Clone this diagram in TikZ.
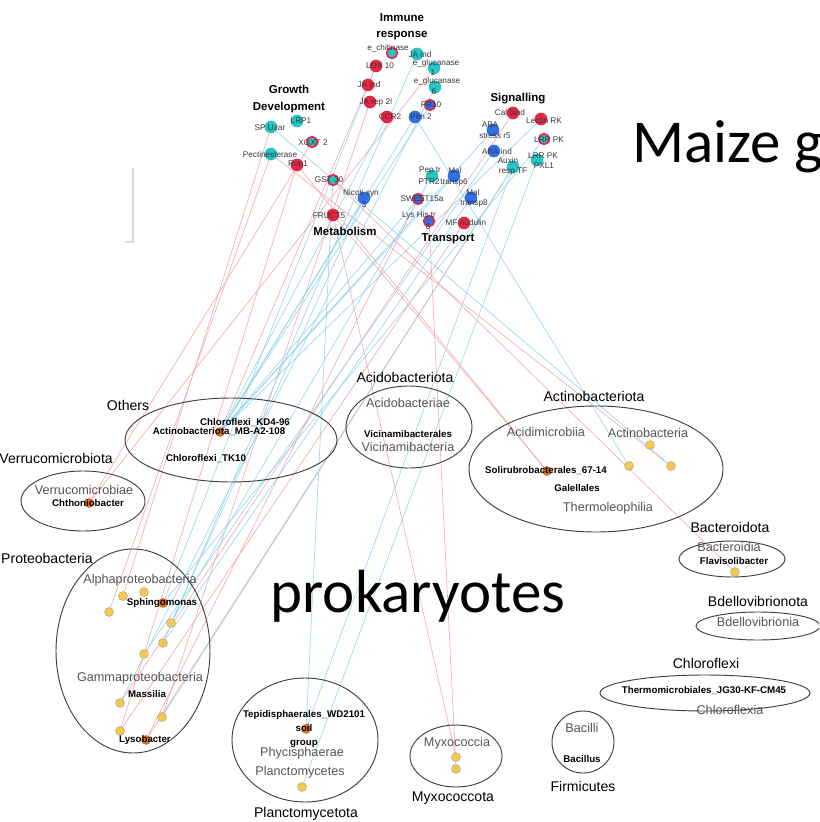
\documentclass[tikz,border=0pt]{standalone}
\usepackage{fontspec}
\setmainfont{Liberation Sans}
\newfontfamily\slidefont{Carlito}
\usetikzlibrary{backgrounds}

\definecolor{genered}{RGB}{232,38,72}
\definecolor{geneteal}{RGB}{38,196,196}
\definecolor{geneblue}{RGB}{48,112,232}
\definecolor{taxyellow}{RGB}{247,200,80}
\definecolor{taxorange}{RGB}{226,112,24}
\definecolor{posline}{RGB}{246,165,165}
\definecolor{negline}{RGB}{145,212,240}
\definecolor{classgray}{RGB}{85,85,85}

\begin{document}
\begin{tikzpicture}[x=0.03cm,y=-0.03cm,
	gene/.style={circle,inner sep=0pt,minimum size=0.38cm},
	rednode/.style={gene,fill=genered},
	tealnode/.style={gene,fill=geneteal},
	bluenode/.style={gene,fill=geneblue},
	ringteal/.style={gene,fill=geneteal,draw=genered,line width=1.4pt,minimum size=0.32cm},
	ringblue/.style={gene,fill=geneblue,draw=genered,line width=1.4pt,minimum size=0.32cm},
	glbl/.style={font=\fontsize{7}{7}\selectfont,text=black!78,inner sep=0pt},
	title/.style={font=\bfseries\fontsize{9.8}{14}\selectfont,align=center,inner sep=0pt},
	phylum/.style={font=\fontsize{12}{13}\selectfont,inner sep=0pt},
	cls/.style={font=\fontsize{10.8}{11}\selectfont,text=classgray,inner sep=0pt},
	genus/.style={font=\bfseries\fontsize{8.3}{12}\selectfont,align=center,inner sep=0pt},
	taxdot/.style={circle,inner sep=0pt,minimum size=0.27cm,fill=taxyellow,draw=black!40,line width=0.3pt},
	hubdot/.style={taxdot,fill=taxorange,draw=taxorange!80!black},
	group/.style={draw=black!75,line width=0.8pt},
	posedge/.style={draw=posline,line width=0.5pt},
	negedge/.style={draw=negline,line width=0.5pt},
	bigtext/.style={font=\slidefont\fontsize{52}{52}\selectfont,inner sep=0pt}]
	\useasboundingbox (0,0) rectangle (819,822);
	\clip (0,0) rectangle (819,822);

	\draw[black!15,line width=1pt] (125,242) -- (133,242) -- (133,168);

	% gene modules
	\node[title] (immune) at (402,27) {Immune\\response};
	\node[title] (growth) at (289,99) {Growth\\Development};
	\node[title] (signal) at (518,99) {Signalling};
	\node[title] (metab) at (345,231) {Metabolism};
	\node[title] (transp) at (448,239) {Transport};

	\node[ringteal] (echit) at (392,53) {};
	\node[tealnode] (jaind1) at (417,54) {};
	\node[tealnode] (eglu1) at (434,68) {};
	\node[rednode] (lox) at (376,66) {};
	\node[tealnode] (eglu6) at (435,87) {};
	\node[rednode] (jaind2) at (368,85) {};
	\node[rednode] (jarep) at (370,102) {};
	\node[ringblue] (pr10) at (430,105) {};
	\node[rednode] (ccr2) at (387,117) {};
	\node[bluenode] (pen2) at (415,117) {};

	\node[tealnode] (spl) at (271,127) {};
	\node[tealnode] (lrp1) at (297,121) {};
	\node[ringteal] (xgxt) at (312,142) {};
	\node[tealnode] (pect) at (271,154) {};
	\node[rednode] (rop1) at (297,165) {};

	\node[ringteal] (gst) at (333,180) {};
	\node[bluenode] (nicoti) at (364,198) {};
	\node[rednode] (fruct) at (333,215) {};

	\node[rednode] (calbind) at (513,113) {};
	\node[rednode] (lectin) at (541,119) {};
	\node[bluenode] (abastress) at (493,130) {};
	\node[ringteal] (lrrpk1) at (544,139) {};
	\node[bluenode] (abaind) at (494,151) {};
	\node[tealnode] (lrrpk2) at (537,160) {};
	\node[tealnode] (auxin) at (513,167) {};

	\node[tealnode] (pept) at (432,176) {};
	\node[bluenode] (mal6) at (454,176) {};
	\node[bluenode] (mal8) at (471,198) {};
	\node[ringblue] (sweet) at (418,199) {};
	\node[ringblue] (lys) at (429,221) {};
	\node[rednode] (mfnod) at (464,223) {};

	\node[glbl] (echit-t) at (388,48) {e\_chitinase};
	\node[glbl] (jaind1-t) at (420,55) {JA ind};
	\node[glbl] (eglu1-t) at (436,63) {e\_glucanase};
	\node[glbl] (eglu1-n) at (433,73) {1};
	\node[glbl] (lox-t) at (380,66) {LOX 10};
	\node[glbl] (eglu6-t) at (437,81) {e\_glucanase};
	\node[glbl] (eglu6-n) at (434,92) {6};
	\node[glbl] (jaind2-t) at (369,85) {JA ind};
	\node[glbl] (jarep-t) at (376,102) {JA rep 2!};
	\node[glbl] (pr10-t) at (431,105) {PR10};
	\node[glbl] (ccr2-t) at (390,117) {CCR2};
	\node[glbl] (pen2-t) at (421,117) {Pen 2};

	\node[glbl] (spl-t) at (270,128) {SP Uzar};
	\node[glbl] (lrp1-t) at (301,121) {LRP1};
	\node[glbl] (xgxt-t) at (313,143) {XGXT 2};
	\node[glbl] (pect-t) at (270,155) {Pectinesterase};
	\node[glbl] (rop1-t) at (298,165) {Rop1};
	\node[glbl] (gst-t) at (329,180) {GST 30};
	\node[glbl] (nicoti-t) at (361,193) {Nicoti syn};
	\node[glbl] (nicoti-n) at (364,205) {3};
	\node[glbl] (fruct-t) at (329,216) {FRUCT5};

	\node[glbl] (calbind-t) at (510,113) {Cal bind};
	\node[glbl] (lectin-t) at (544,121) {Lectin RK};
	\node[glbl] (abastress-t) at (490,125) {ABA};
	\node[glbl] (abastress-u) at (495,136) {stress r5};
	\node[glbl] (lrrpk1-t) at (549,140) {LRR PK};
	\node[glbl] (abaind-t) at (497,152) {ABA ind};
	\node[glbl] (lrrpk2-t) at (543,156) {LRR PK};
	\node[glbl] (lrrpk2-u) at (544,166) {PXL1};
	\node[glbl] (auxin-t) at (508,161) {Auxin};
	\node[glbl] (auxin-u) at (513,172) {resp TF};

	\node[glbl] (pept-t) at (430,171) {Pep tr};
	\node[glbl] (pept-u) at (429,182) {PTR2};
	\node[glbl] (mal6-t) at (455,171) {Mal};
	\node[glbl] (mal6-u) at (454,182) {transp6};
	\node[glbl] (mal8-t) at (473,193) {Mal};
	\node[glbl] (mal8-u) at (474,203) {transp8};
	\node[glbl] (sweet-t) at (422,199) {SWEET15a};
	\node[glbl] (lys-t) at (419,215) {Lys His tr};
	\node[glbl] (lys-n) at (428,227) {6};
	\node[glbl] (mfnod-t) at (466,223) {MF nodulin};

	% prokaryote groups
	\draw[group] (231,440) ellipse [x radius=106,y radius=42];
	\draw[group] (409,427) ellipse [x radius=63,y radius=41];
	\draw[group] (596,469) ellipse [x radius=127,y radius=63];
	\draw[group] (83,501) ellipse [x radius=62,y radius=30];
	\draw[group] (133,651) ellipse [x radius=77,y radius=102];
	\draw[group] (305,740) ellipse [x radius=73,y radius=62];
	\draw[group] (456,756) ellipse [x radius=46,y radius=31];
	\draw[group] (583,742) ellipse [x radius=31,y radius=31];
	\draw[group] (732,559) ellipse [x radius=53,y radius=18];
	\draw[group] (758,626) ellipse [x radius=62,y radius=14];
	\draw[group] (705,693) ellipse [x radius=105,y radius=18];

	\node[phylum] (others) at (128,405) {Others};
	\node[phylum] (acidobact) at (405,377) {Acidobacteriota};
	\node[phylum] (actinobact) at (594,396) {Actinobacteriota};
	\node[phylum,anchor=east] (verrucobact) at (113,458) {Verrucomicrobiota};
	\node[phylum,anchor=west] (proteobact) at (1,558) {Proteobacteria};
	\node[phylum] (bacteroid) at (730,527) {Bacteroidota};
	\node[phylum] (bdellobact) at (758,601) {Bdellovibrionota};
	\node[phylum] (chloroflexi) at (706,663) {Chloroflexi};
	\node[phylum] (planctobact) at (306,814) {Planctomycetota};
	\node[phylum] (myxobact) at (453,798) {Myxococcota};
	\node[phylum] (firmicutes) at (583,786) {Firmicutes};

	\node[hubdot] (kd4) at (220,432) {};
	\node[hubdot] (chth) at (89,503) {};
	\node[hubdot] (soli) at (547,471) {};
	\node[taxdot] (act1) at (650,445) {};
	\node[taxdot] (act2) at (629,466) {};
	\node[taxdot] (act3) at (671,466) {};
	\node[taxdot] (p1) at (123,596) {};
	\node[taxdot] (p2) at (144,592) {};
	\node[hubdot] (sphingo) at (163,603) {};
	\node[taxdot] (p3) at (109,612) {};
	\node[taxdot] (p4) at (171,623) {};
	\node[taxdot] (p5) at (163,643) {};
	\node[taxdot] (p6) at (144,654) {};
	\node[taxdot] (massilia) at (120,703) {};
	\node[taxdot] (p8) at (162,717) {};
	\node[taxdot] (p9) at (120,731) {};
	\node[hubdot] (lyso) at (146,740) {};
	\node[hubdot] (tepi) at (306,729) {};
	\node[taxdot] (plancto) at (302,787) {};
	\node[taxdot] (myx1) at (456,757) {};
	\node[taxdot] (myx2) at (456,769) {};
	\node[taxdot] (flavi) at (735,572) {};

	\node[genus] (kd4-t) at (245,423) {Chloroflexi\_KD4-96};
	\node[genus] (mba2-t) at (219,432) {Actinobacteriota\_MB-A2-108};
	\node[genus] (tk10-t) at (206,459) {Chloroflexi\_TK10};
	\node[cls] (acidobacteriae) at (408,403) {Acidobacteriae};
	\node[genus] (vicin-t) at (408,434) {Vicinamibacterales};
	\node[cls] (vicinamibacteria) at (408,447) {Vicinamibacteria};
	\node[cls] (acidimicrobiia) at (546,432) {Acidimicrobiia};
	\node[cls] (actinobacteria) at (648,433) {Actinobacteria};
	\node[genus] (soli-t) at (546,471) {Solirubrobacterales\_67-14};
	\node[genus] (galell-t) at (577,488) {Galellales};
	\node[cls] (thermoleophilia) at (608,508) {Thermoleophilia};
	\node[cls] (verrucomicrobiae) at (84,490) {Verrucomicrobiae};
	\node[genus] (chth-t) at (88,503) {Chthoniobacter};
	\node[cls] (alphaproteo) at (140,580) {Alphaproteobacteria};
	\node[genus] (sphingo-t) at (162,603) {Sphingomonas};
	\node[cls] (gammaproteo) at (140,678) {Gammaproteobacteria};
	\node[genus] (massilia-t) at (147,694) {Massilia};
	\node[genus] (lyso-t) at (145,740) {Lysobacter};
	\node[genus] (tepi-t) at (304,729) {Tepidisphaerales\_WD2101\\soil\\group};
	\node[cls] (phycisphaerae) at (302,753) {Phycisphaerae};
	\node[cls] (planctomycetes) at (300,772) {Planctomycetes};
	\node[cls] (myxococcia) at (457,743) {Myxococcia};
	\node[cls] (bacilli) at (582,728) {Bacilli};
	\node[genus] (bacillus-t) at (582,759) {Bacillus};
	\node[cls] (bacteroidia) at (729,547) {Bacteroidia};
	\node[genus] (flavi-t) at (734,561) {Flavisolibacter};
	\node[cls] (bdellovibrionia) at (758,622) {Bdellovibrionia};
	\node[genus] (thermomicro-t) at (704,691) {Thermomicrobiales\_JG30-KF-CM45};
	\node[cls] (chloroflexia) at (730,710) {Chloroflexia};

	\node[bigtext,anchor=base] (prok) at (418,612) {prokaryotes};
	\node[bigtext,anchor=base west] (maize) at (632,163) {Maize g};

	% correlations
	\begin{scope}[on background layer]
		\fill[white] (0,0) rectangle (819,822);
		\draw[posedge] (xgxt)--(chth);
		\draw[posedge] (eglu1)--(chth);
		\draw[posedge] (spl)--(p1);
		\draw[posedge] (pect)--(p3);
		\draw[posedge] (rop1)--(p9);
		\draw[posedge] (jarep)--(p8);
		\draw[posedge] (mfnod)--(p9);
		\draw[posedge] (sweet)--(lyso);
		\draw[posedge] (calbind)--(massilia);
		\draw[posedge] (gst)--(flavi);
		\draw[posedge] (fruct)--(soli);
		\draw[posedge] (rop1)--(soli);
		\draw[posedge] (fruct)--(myx1);
		\draw[posedge] (lys)--(myx2);
		\draw[posedge] (pect)--(act3);
		\draw[posedge] (lox)--(kd4);
		\draw[posedge] (auxin)--(lyso);
		\draw[negedge] (spl)--(act3);
		\draw[negedge] (pen2)--(act2);
		\draw[negedge] (gst)--(tepi);
		\draw[negedge] (lrrpk2)--(plancto);
		\draw[negedge] (lectin)--(kd4);
		\draw[negedge] (pen2)--(kd4);
		\draw[negedge] (pr10)--(kd4);
		\draw[negedge] (nicoti)--(kd4);
		\draw[negedge] (abastress)--(kd4);
		\draw[negedge] (sweet)--(kd4);
		\draw[negedge] (mal6)--(kd4);
		\draw[negedge] (ccr2)--(kd4);
		\draw[negedge] (lox)--(sphingo);
		\draw[negedge] (lrrpk1)--(sphingo);
		\draw[negedge] (pept)--(p4);
		\draw[negedge] (nicoti)--(p4);
		\draw[negedge] (mal8)--(p5);
		\draw[negedge] (jaind1)--(p5);
		\draw[negedge] (abaind)--(p6);
		\draw[negedge] (auxin)--(p8);
		\draw[negedge] (eglu6)--(massilia);
		\draw[negedge] (auxin)--(tepi);
	\end{scope}
\end{tikzpicture}
\end{document}
